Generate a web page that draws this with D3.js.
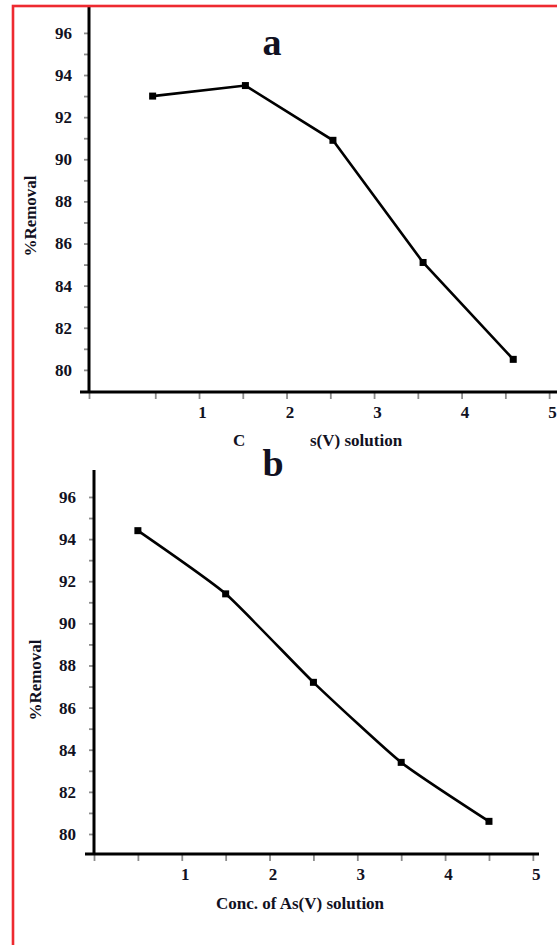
<!DOCTYPE html>
<html>
<head>
<meta charset="utf-8">
<script src="https://cdn.jsdelivr.net/npm/d3@7"></script>
<style>
  body { margin: 0; background: #fff; }
  svg text { font-family: "Liberation Serif", "Times New Roman", serif; font-weight: bold; fill: #111122; }
</style>
</head>
<body>
<div id="chart"></div>
<script>
// values: concentration of As(V) vs % removal
var concA = [0.47, 1.53, 2.53, 3.56, 4.59];
var removalA = [93.0, 93.5, 90.9, 85.1, 80.5];

var concB = [0.5, 1.5, 2.5, 3.5, 4.5];
var removalB = [94.4, 91.4, 87.2, 83.4, 80.6];

var yTickLabels = [80, 82, 84, 86, 88, 90, 92, 94, 96];
var yMinorTicks = [80, 81, 82, 83, 84, 85, 86, 87, 88, 89, 90, 91, 92, 93, 94, 95, 96];
var xTickLabels = [1, 2, 3, 4, 5];
var xMinorTicks = [0.5, 1, 1.5, 2, 2.5, 3, 3.5, 4, 4.5, 5];

var xTitle = "Conc. of As(V) solution";
// in panel a the middle of the x title is hidden behind the "b" label box
var xTitleVisibleA = ["C", "s(V) solution"];
var yTitle = "%Removal";

var svg = d3.select("#chart").append("svg")
      .attr("width", 557)
      .attr("height", 945);

function drawPanel(p) {
      console.log("drawPanel(" + p.letter + ")");
      var x = d3.scaleLinear().domain(p.xDomain).range(p.xRange);
      var y = d3.scaleLinear().domain(p.yDomain).range(p.yRange);
      var axisY = p.yRange[0];
      var axisX = p.xRange[0];

      var g = svg.append("g");

      // minor ticks (grey, no labels)
      g.append("g")
            .attr("transform", "translate(" + axisX + ",0)")
            .call(d3.axisLeft(y).tickValues(yMinorTicks).tickSize(5).tickFormat(""));
      g.append("g")
            .attr("transform", "translate(0," + axisY + ")")
            .call(d3.axisBottom(x).tickValues([p.xDomain[0]].concat(xMinorTicks)).tickSize(7).tickFormat(""));
      g.selectAll(".domain").remove();
      g.selectAll(".tick line").attr("stroke", "#8c8c8c").attr("stroke-width", 1.8);

      // tick labels
      var yLab = g.append("g")
            .attr("transform", "translate(" + axisX + ",0)")
            .call(d3.axisLeft(y).tickValues(yTickLabels).tickSize(0).tickPadding(p.yPad).tickFormat(d3.format("d")));
      yLab.select(".domain").remove();

      var xLab = g.append("g")
            .attr("transform", "translate(0," + axisY + ")")
            .call(d3.axisBottom(x).tickValues(xTickLabels).tickSize(0).tickPadding(14).tickFormat(d3.format("d")));
      xLab.select(".domain").remove();
      xLab.selectAll("text").attr("dx", 3);

      g.selectAll(".tick text")
            .attr("fill", "#111122")
            .style("font-family", "'Liberation Serif', serif")
            .style("font-weight", "bold")
            .style("font-size", "17px");

      // axis lines
      g.append("line")
            .attr("x1", axisX).attr("x2", axisX)
            .attr("y1", p.yRange[1]).attr("y2", axisY)
            .attr("stroke", "#000").attr("stroke-width", 3);
      g.append("line")
            .attr("x1", p.axisStart).attr("x2", p.xRange[1])
            .attr("y1", axisY).attr("y2", axisY)
            .attr("stroke", "#000").attr("stroke-width", 3);

      // data line + square markers
      var pts = p.xs.map(function(d, i) { return [d, p.ys[i]]; });
      var line = d3.line()
            .x(d => x(d[0]))
            .y(d => y(d[1]))
            .curve(p.curve);

      g.append("path")
            .datum(pts)
            .attr("d", line)
            .attr("fill", "none")
            .attr("stroke", "#000")
            .attr("stroke-width", 2.6);

      g.selectAll("rect.pt")
            .data(pts)
            .enter()
            .append("rect")
            .attr("class", "pt")
            .attr("x", d => x(d[0]) - 3.5)
            .attr("y", d => y(d[1]) - 3.5)
            .attr("width", 7)
            .attr("height", 7)
            .attr("fill", "#000");

      // titles
      g.append("text")
            .attr("transform", "translate(" + p.yTitleX + "," + p.yTitleY + ") rotate(-90)")
            .attr("text-anchor", "middle")
            .attr("dy", "0.35em")
            .style("font-size", "17px")
            .text(yTitle);

      p.xTitleParts.forEach(function(part) {
            g.append("text")
                  .attr("x", part.x)
                  .attr("y", p.xTitleY)
                  .attr("text-anchor", part.anchor)
                  .style("font-size", "17px")
                  .text(part.text);
      });
}

drawPanel({
      letter: "a",
      xs: concA, ys: removalA,
      xDomain: [-0.257, 5.09], xRange: [89, 557],
      yDomain: [78.95, 97.23], yRange: [392, 7],
      axisStart: 80, yPad: 17,
      curve: d3.curveLinear,
      yTitleX: 30, yTitleY: 216,
      xTitleY: 446,
      xTitleParts: [
            { text: xTitleVisibleA[0], x: 233, anchor: "start" },
            { text: xTitleVisibleA[1], x: 310, anchor: "start" }
      ]
});

drawPanel({
      letter: "b",
      xs: concB, ys: removalB,
      xDomain: [0, 5.07], xRange: [94, 539],
      yDomain: [79.05, 97.28], yRange: [854, 470],
      axisStart: 85, yPad: 18,
      curve: d3.curveCardinal.tension(0.5),
      yTitleX: 35, yTitleY: 680,
      xTitleY: 909,
      xTitleParts: [
            { text: xTitle, x: 300, anchor: "middle" }
      ]
});

svg.append("text")
      .attr("x", 272).attr("y", 55)
      .attr("text-anchor", "middle")
      .style("font-size", "38px")
      .attr("fill", "#000")
      .text("a");

svg.append("text")
      .attr("x", 273).attr("y", 476)
      .attr("text-anchor", "middle")
      .style("font-size", "38px")
      .attr("fill", "#000")
      .text("b");

// red frame around the figure
svg.append("rect")
      .attr("x", 13).attr("y", 6)
      .attr("width", 700).attr("height", 1100)
      .attr("fill", "none")
      .attr("stroke", "#ee2a30")
      .attr("stroke-width", 2.6);
</script>
</body>
</html>
